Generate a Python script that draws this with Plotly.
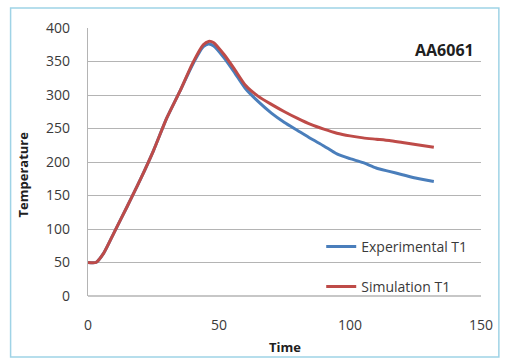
import plotly.graph_objects as go

time = [0, 3, 6, 10, 15, 20, 25, 30, 35, 40, 44, 46, 48, 52, 56, 60, 65, 70, 75, 80,
        85, 90, 95, 100, 105, 110, 115, 120, 125, 132]
experimental_t1 = [50, 50, 64, 95, 134, 174, 217, 265, 305, 346, 372, 376, 373, 355, 333, 310,
                   290, 273, 259, 247, 235, 224, 212, 205, 199, 191, 186, 181, 176, 171]
simulation_t1 = [50, 50, 64, 95, 134, 174, 217, 265, 305, 348, 375, 380, 378, 360, 338, 315,
                 298, 286, 275, 265, 256, 249, 243, 239, 236, 234, 232, 229, 226, 222]

W, H = 505, 358
L, R, T, B = 88, 21, 28, 62
pw, ph = W - L - R, H - T - B

def px(x):
    return (x - L) / pw

def py(y):
    return (H - B - y) / ph

FONT = "Open Sans"
fig = go.Figure()
fig.add_trace(go.Scatter(x=time, y=experimental_t1, mode="lines", name="Experimental T1",
                         line=dict(color="#4a7ebb", width=3, shape="spline", smoothing=0.6),
                         legend="legend"))
fig.add_trace(go.Scatter(x=time, y=simulation_t1, mode="lines", name="Simulation T1",
                         line=dict(color="#be4b48", width=3, shape="spline", smoothing=0.6),
                         legend="legend2"))

grid = "#b4b4b4"
fig.update_layout(
    width=W, height=H,
    margin=dict(l=L, r=R, t=T, b=B),
    paper_bgcolor="white", plot_bgcolor="white",
    font=dict(family=FONT, size=14, color="#3a3a3a"),
    xaxis=dict(range=[0, 150], tickvals=[0, 50, 100, 150], showgrid=False,
               zeroline=False, showline=False, ticks="", ticklabelstandoff=19,
               tickfont=dict(size=14, color="#3a3a3a")),
    yaxis=dict(range=[0, 400], tickvals=list(range(0, 401, 50)), showgrid=True,
               gridcolor=grid, gridwidth=1.3, zeroline=False, showline=True,
               linecolor=grid, linewidth=1.3, ticks="", ticklabelstandoff=14,
               tickfont=dict(size=14, color="#3a3a3a")),
    legend=dict(x=px(323), y=py(247), xanchor="left", yanchor="middle",
                bgcolor="rgba(0,0,0,0)", font=dict(size=14, color="#3a3a3a")),
    legend2=dict(x=px(323), y=py(287), xanchor="left", yanchor="middle",
                 bgcolor="rgba(0,0,0,0)", font=dict(size=14, color="#3a3a3a")),
    showlegend=True,
)
# bottom axis line (0 gridline)
fig.add_shape(type="line", xref="paper", yref="paper", x0=0, x1=1, y0=0, y1=0,
              line=dict(color=grid, width=1.3))
# outer chart border
fig.add_shape(type="rect", xref="paper", yref="paper",
              x0=px(10), x1=px(502), y0=py(357), y1=py(8),
              line=dict(color="#9fd3e6", width=1.5))
fig.add_annotation(text="<b>AA6061</b>", xref="paper", yref="paper",
                   x=px(479), y=py(50), xanchor="right", yanchor="middle",
                   showarrow=False, font=dict(size=16, color="#202020"))
fig.add_annotation(text="<b>Time</b>", xref="paper", yref="paper",
                   x=px(287), y=py(347), xanchor="center", yanchor="middle",
                   showarrow=False, font=dict(size=13, color="#202020"))
fig.add_annotation(text="<b>Temperature</b>", xref="paper", yref="paper",
                   x=px(23), y=py(174), xanchor="center", yanchor="middle",
                   textangle=-90, showarrow=False, font=dict(size=13, color="#202020"))

fig.write_html("out.html", config={"displayModeBar": False},
               post_script="document.body.style.margin='0';document.body.style.overflow='hidden';")
